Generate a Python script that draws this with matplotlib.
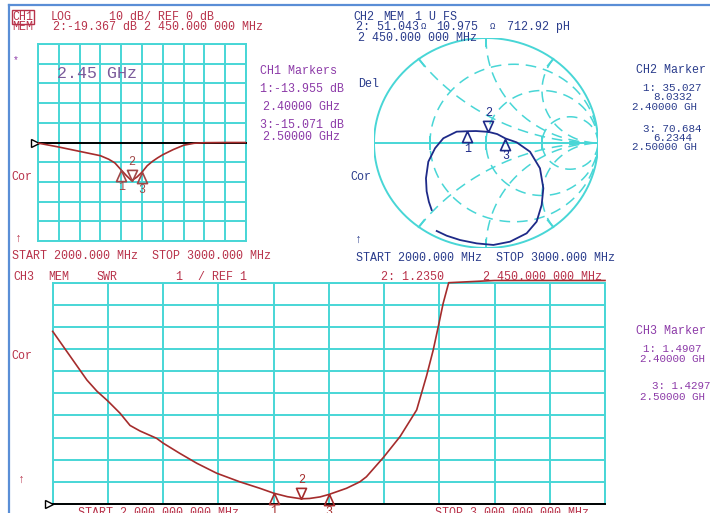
import numpy as np
import matplotlib
matplotlib.use("Agg")
import matplotlib.pyplot as plt
from matplotlib.lines import Line2D

W, H = 710, 513
GRID = "#48d6d6"
TRACE_RED = "#a52c2c"
TXT_RED = "#b8324a"
NAVY = "#1e2a88"
TXT_BLUE = "#2a3c8c"
PURPLE = "#8c3aa8"
MONO = ["Liberation Mono", "DejaVu Sans Mono"]

# CH1: log magnitude (dB) vs frequency (MHz)
ch1_freq = [2000, 2050, 2100, 2150, 2200, 2250, 2300, 2340, 2370, 2400, 2425,
            2450, 2475, 2500, 2525, 2550, 2575, 2600, 2650, 2700, 2750, 2800,
            2900, 3000]
ch1_db = [-0.3, -1.3, -2.3, -3.4, -4.5, -5.6, -6.7, -8.5, -10.4, -13.96, -16.8,
          -19.37, -17.6, -15.07, -11.8, -9.6, -7.8, -6.2, -3.6, -1.4, -0.4, -0.1,
          0.0, 0.0]

# CH2: Smith chart trace, reflection coefficient along the sweep
ch2_re = [-0.485, -0.51, -0.53, -0.536, -0.515, -0.455, -0.381, -0.262, -0.166,
          -0.09, 0.022, 0.10, 0.174, 0.274, 0.393, 0.482, 0.512, 0.497, 0.452,
          0.363, 0.214, 0.066, -0.083, -0.232, -0.351, -0.44]
ch2_im = [-0.638, -0.56, -0.46, -0.336, -0.178, -0.05, 0.045, 0.108, 0.112,
          0.114, 0.106, 0.085, 0.043, 0.006, -0.083, -0.241, -0.431, -0.59,
          -0.749, -0.86, -0.94, -0.971, -0.956, -0.924, -0.883, -0.838]

# CH3: SWR vs frequency (MHz)
ch3_freq = [2000, 2031, 2062, 2080, 2100, 2122, 2140, 2158, 2188, 2200, 2230,
            2261, 2297, 2339, 2375, 2400, 2425, 2450, 2465, 2484, 2500, 2532,
            2556, 2568, 2599, 2629, 2659, 2677, 2689, 2698, 2707, 2717, 2800,
            2900, 3000]
ch3_swr = [8.8, 7.7, 6.6, 6.1, 5.65, 5.1, 4.55, 4.3, 3.97, 3.75, 3.29, 2.84,
           2.39, 2.0, 1.71, 1.49, 1.33, 1.235, 1.25, 1.32, 1.43, 1.71, 2.0, 2.23,
           3.11, 4.05, 5.25, 6.8, 7.96, 9.0, 10.07, 11.0, 14.0, 17.0, 20.0]

# markers
mk_freq = [2400, 2450, 2500]
mk_ch1_db = [-13.955, -19.367, -15.071]
mk_ch2_r = [35.027, 51.043, 70.684]
mk_ch2_x = [8.0332, 10.975, 6.2344]
mk_ch3_swr = [1.4907, 1.2350, 1.4297]

fig = plt.figure(figsize=(W / 100, H / 100), dpi=100)
fig.patch.set_facecolor("white")


def box(x0, y0, x1, y1):
    return [x0 / W, 1 - y1 / H, (x1 - x0) / W, (y1 - y0) / H]


def txt(x, y, s, color, size=8.4, **kw):
    fig.text(x / W, 1 - y / H, s, color=color, fontsize=size, family=MONO,
             va="center", ha="left", **kw)


def grid_axes(rect, xlim, ylim):
    ax = fig.add_axes(box(*rect))
    ax.set_xlim(xlim)
    ax.set_ylim(ylim)
    ax.set_xticks(np.linspace(xlim[0], xlim[1], 11))
    ax.set_yticks(np.linspace(ylim[0], ylim[1], 11))
    ax.grid(True, color=GRID, lw=1.4)
    ax.tick_params(length=0, labelbottom=False, labelleft=False)
    for s in ax.spines.values():
        s.set_color(GRID)
        s.set_linewidth(1.4)
    ax.set_facecolor("none")
    return ax


# triangle marker shapes with apex at the data point
TRI_UP = [(0, 0), (0.45, -1), (-0.45, -1), (0, 0)]
TRI_DOWN = [(0, 0), (0.45, 1), (-0.45, 1), (0, 0)]


def draw_markers(ax, xs, ys, color):
    for i, (x, y) in enumerate(zip(xs, ys)):
        up = i != 1
        ax.plot([x], [y], marker=TRI_UP if up else TRI_DOWN, ms=16, mfc="none",
                mec=color, mew=1.2, clip_on=False, zorder=5)
        ax.annotate(str(i + 1), (x, y), xytext=(0, -12.5 if up else 13.5),
                    textcoords="offset points", ha="center", va="center",
                    color=color, fontsize=8.4, family=MONO, annotation_clip=False)


# ---------------- CH1 ----------------
ax1 = grid_axes((38, 44, 246, 241), (2000, 3000), (-50, 50))
ax1.plot([-0.02, 1], [0, 0], color="black", lw=1.4,
         transform=ax1.get_yaxis_transform(), clip_on=False, zorder=3)
ax1.plot([-0.0144], [0], marker=">", ms=6, mfc="white", mec="black", mew=1,
         transform=ax1.get_yaxis_transform(), clip_on=False, zorder=4)
ax1.plot(ch1_freq, ch1_db, color=TRACE_RED, lw=1.2, zorder=4)
draw_markers(ax1, mk_freq, mk_ch1_db, "#a04848")
ax1.text(0.09, 0.85, "2.45 GHz", transform=ax1.transAxes, color="#7a5a9a",
         fontsize=12, family=MONO, va="center")

txt(12.5, 17, "CH1", TXT_RED,
    bbox=dict(boxstyle="square,pad=0.08", fc="none", ec=TXT_RED, lw=1))
txt(51, 17, "LOG", TXT_RED)
txt(109, 17, "10 dB/ REF 0 dB", TXT_RED)
txt(12, 27.5, "MEM", TXT_RED)
txt(53, 27.5, "2:-19.367 dB 2 450.000 000 MHz", TXT_RED)
txt(13, 60, "*", PURPLE, size=7)
txt(260, 71, "CH1 Markers", PURPLE)
txt(260, 89, "1:-13.955 dB", PURPLE)
txt(263, 107.5, "2.40000 GHz", PURPLE)
txt(260, 125.5, "3:-15.071 dB", PURPLE)
txt(263, 137, "2.50000 GHz", PURPLE)
txt(11, 177, "Cor", TXT_RED)
txt(15, 239, "\u2191", TXT_RED)
txt(11.5, 256, "START 2000.000 MHz  STOP 3000.000 MHz", TXT_RED)

# ---------------- CH2 (Smith chart) ----------------
ax2 = fig.add_axes(box(374, 38, 598, 248))
ax2.set_xlim(-1, 1)
ax2.set_ylim(-1, 1)
ax2.axis("off")
t = np.linspace(0, 2 * np.pi, 400)
ax2.plot(np.cos(t), np.sin(t), color=GRID, lw=1.4)
ax2.plot([-1, 1], [0, 0], color=GRID, lw=1.4)
dash = (0, (7, 4.5))
for r in (1 / 3, 1, 3):
    c, rad = r / (1 + r), 1 / (1 + r)
    ax2.plot(c + rad * np.cos(t), rad * np.sin(t), color=GRID, lw=1.1, ls=dash)
rr = np.concatenate([[0], np.geomspace(1e-3, 1e3, 300)])
for xv in (0.5, 1, 2):
    for sgn in (1, -1):
        z = rr + 1j * sgn * xv
        g = (z - 1) / (z + 1)
        ax2.plot(g.real, g.imag, color=GRID, lw=1.1, ls=dash)
        ang = np.angle((1j * sgn * xv - 1) / (1j * sgn * xv + 1))
        ax2.plot([np.cos(ang), 0.92 * np.cos(ang)], [np.sin(ang), 0.92 * np.sin(ang)],
                 color=GRID, lw=1.4)
for gx in (-0.5, 0, 0.5):
    ax2.plot([gx, gx], [-0.06, 0.06], color=GRID, lw=1.4)
ax2.plot(ch2_re, ch2_im, color=NAVY, lw=1.3, zorder=4)
mz = (np.array(mk_ch2_r) + 1j * np.array(mk_ch2_x)) / 50.0
mg = (mz - 1) / (mz + 1)
draw_markers(ax2, mg.real, mg.imag, NAVY)

txt(353, 16.5, "CH2", TXT_BLUE)
txt(383, 16.5, "MEM", TXT_BLUE)
txt(415, 16.5, "1 U FS", TXT_BLUE)
txt(356.5, 27, "2: 51.043", TXT_BLUE)
txt(421, 27, "\u03a9", TXT_BLUE, size=6.5)
txt(436.5, 27, "10.975", TXT_BLUE)
txt(490, 27, "\u03a9", TXT_BLUE, size=6.5)
txt(506.5, 27, "712.92 pH", TXT_BLUE)
txt(358, 38, "2 450.000 000 MHz", TXT_BLUE)
txt(358, 84, "Del", TXT_BLUE)
txt(350, 177, "Cor", TXT_BLUE)
txt(355, 240, "\u2191", TXT_BLUE)
txt(356.5, 258, "START 2000.000 MHz  STOP 3000.000 MHz", TXT_BLUE)
txt(636, 70, "CH2 Marker", TXT_BLUE)
txt(643, 88, "1: 35.027", TXT_BLUE, size=7.8)
txt(653, 97.5, "8.0332", TXT_BLUE, size=7.8)
txt(632, 107, "2.40000 GH", TXT_BLUE, size=7.8)
txt(643, 128.5, "3: 70.684", TXT_BLUE, size=7.8)
txt(653, 138, "6.2344", TXT_BLUE, size=7.8)
txt(632, 147.5, "2.50000 GH", TXT_BLUE, size=7.8)

# ---------------- CH3 ----------------
ax3 = grid_axes((52.7, 282.7, 605, 504), (2000, 3000), (1, 11))
ax3.plot([-0.011, 1], [1, 1], color="black", lw=1.4,
         transform=ax3.get_yaxis_transform(), clip_on=False, zorder=3)
ax3.plot([-0.0058], [1], marker=">", ms=6, mfc="white", mec="black", mew=1,
         transform=ax3.get_yaxis_transform(), clip_on=False, zorder=4)
ax3.plot(ch3_freq, np.minimum(ch3_swr, 11.1), color=TRACE_RED, lw=1.2,
         clip_on=False, zorder=4)
draw_markers(ax3, mk_freq, mk_ch3_swr, TRACE_RED)

txt(13, 276.5, "CH3", TXT_RED)
txt(48, 276.5, "MEM", TXT_RED)
txt(96.5, 276.5, "SWR", TXT_RED)
txt(175, 276.5, "1", TXT_RED)
txt(198, 276.5, "/ REF 1", TXT_RED)
txt(381.5, 276.5, "2: 1.2350", TXT_RED)
txt(483, 276.5, "2 450.000 000 MHz", TXT_RED)
txt(11.5, 356, "Cor", TXT_RED)
txt(18, 480, "\u2191", TXT_RED)
txt(78, 513, "START 2 000.000 000 MHz", TXT_RED)
txt(435, 513, "STOP 3 000.000 000 MHz", TXT_RED)
txt(636.5, 330.5, "CH3 Marker", PURPLE)
txt(643, 349, "1: 1.4907", PURPLE, size=7.8)
txt(640, 358.5, "2.40000 GH", PURPLE, size=7.8)
txt(651.5, 386, "3: 1.4297", PURPLE, size=7.8)
txt(640, 396.5, "2.50000 GH", PURPLE, size=7.8)

# outer window frame
fig.add_artist(Line2D([9 / W, 1], [1 - 5 / H, 1 - 5 / H], color="#5a8ed6", lw=1.6))
fig.add_artist(Line2D([9 / W, 9 / W], [0, 1 - 5 / H], color="#5a8ed6", lw=1.6))

fig.savefig("out.png", dpi=100, facecolor="white")
